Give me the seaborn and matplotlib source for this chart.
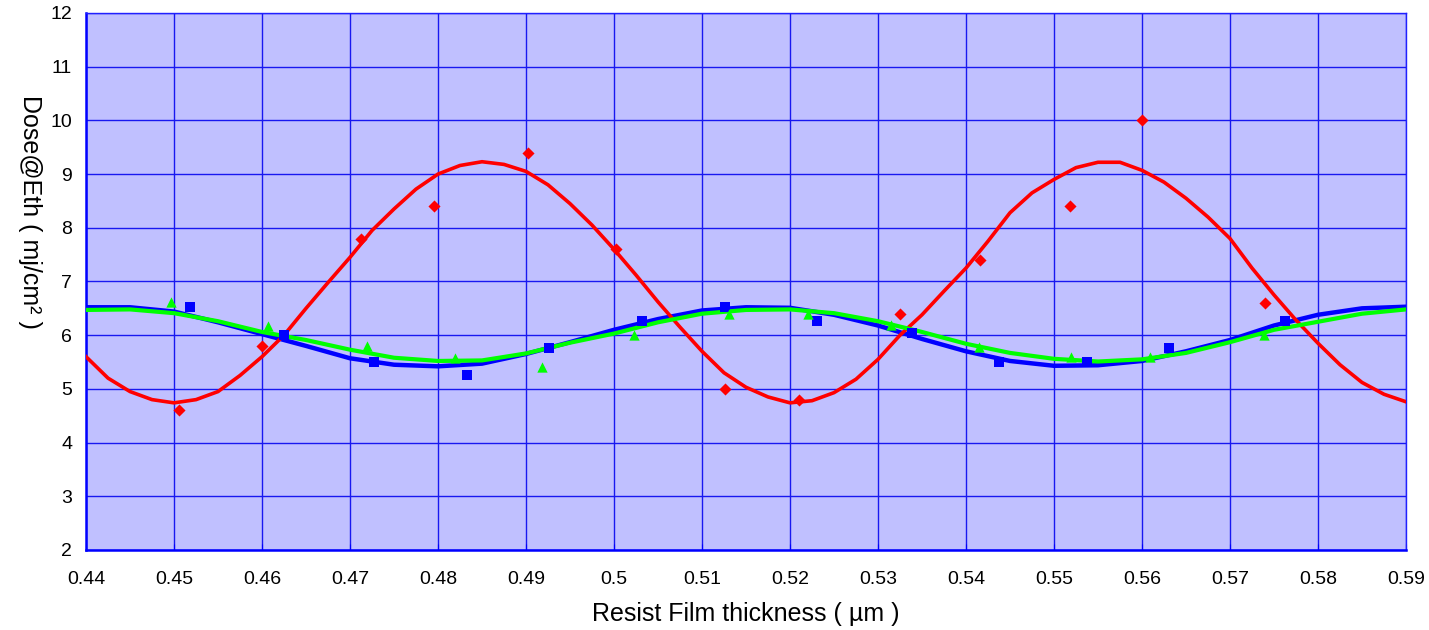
import matplotlib
matplotlib.use("Agg")
import matplotlib.pyplot as plt
import seaborn as sns

# measured points (markers)
red_x = [0.4506, 0.46, 0.4713, 0.4795, 0.4902, 0.5002, 0.5126, 0.521, 0.5325, 0.5416, 0.5518, 0.56, 0.574]
red_y = [4.6, 5.8, 7.8, 8.4, 9.4, 7.6, 5.0, 4.8, 6.4, 7.4, 8.4, 10.0, 6.6]

blue_x = [0.4518, 0.4625, 0.4727, 0.4833, 0.4926, 0.5032, 0.5126, 0.5231, 0.5339, 0.5438, 0.5538, 0.5631, 0.5763]
blue_y = [6.53, 6.0, 5.5, 5.26, 5.76, 6.26, 6.52, 6.26, 6.04, 5.5, 5.5, 5.76, 6.26]

green_x = [0.4497, 0.4607, 0.4719, 0.4819, 0.4918, 0.5023, 0.5131, 0.522, 0.5315, 0.5415, 0.5519, 0.5609, 0.5739]
green_y = [6.62, 6.17, 5.8, 5.58, 5.41, 6.0, 6.4, 6.4, 6.19, 5.78, 5.6, 5.6, 6.0]

# fitted curves
red_fit_x = [0.44, 0.4425, 0.445, 0.4475, 0.45, 0.4525, 0.455, 0.4575, 0.46, 0.4625,
             0.465, 0.4675, 0.47, 0.4725, 0.475, 0.4775, 0.48, 0.4825, 0.485, 0.4875,
             0.49, 0.4925, 0.495, 0.4975, 0.50, 0.5025, 0.505, 0.5075, 0.51, 0.5125,
             0.515, 0.5175, 0.52, 0.5225, 0.525, 0.5275, 0.53, 0.5325, 0.535, 0.5375,
             0.54, 0.5425, 0.545, 0.5475, 0.55, 0.5525, 0.555, 0.5575, 0.56, 0.5625,
             0.565, 0.5675, 0.57, 0.5725, 0.575, 0.5775, 0.58, 0.5825, 0.585, 0.5875, 0.59]
red_fit_y = [5.6, 5.2, 4.95, 4.8, 4.74, 4.8, 4.95, 5.25, 5.6, 6.0,
             6.5, 6.98, 7.45, 7.95, 8.35, 8.72, 9.0, 9.16, 9.23, 9.18,
             9.05, 8.8, 8.45, 8.05, 7.6, 7.12, 6.62, 6.15, 5.7, 5.3,
             5.03, 4.85, 4.74, 4.78, 4.93, 5.18, 5.55, 6.0, 6.38, 6.82,
             7.25, 7.75, 8.28, 8.65, 8.9, 9.12, 9.22, 9.22, 9.07, 8.85,
             8.55, 8.2, 7.8, 7.25, 6.75, 6.28, 5.85, 5.45, 5.12, 4.9, 4.76]

fit_x = [0.44, 0.445, 0.45, 0.455, 0.46, 0.465, 0.47, 0.475, 0.48, 0.485,
         0.49, 0.495, 0.50, 0.505, 0.51, 0.515, 0.52, 0.525, 0.53, 0.535,
         0.54, 0.545, 0.55, 0.555, 0.56, 0.565, 0.57, 0.575, 0.58, 0.585, 0.59]
blue_fit_y = [6.52, 6.52, 6.44, 6.24, 6.02, 5.8, 5.57, 5.45, 5.42, 5.47,
              5.65, 5.87, 6.1, 6.3, 6.46, 6.52, 6.51, 6.38, 6.18, 5.93,
              5.7, 5.52, 5.43, 5.44, 5.52, 5.7, 5.91, 6.18, 6.38, 6.5, 6.53]
green_fit_y = [6.47, 6.48, 6.41, 6.26, 6.06, 5.91, 5.73, 5.58, 5.52, 5.53,
               5.66, 5.86, 6.03, 6.24, 6.4, 6.47, 6.48, 6.41, 6.26, 6.06,
               5.84, 5.67, 5.56, 5.51, 5.55, 5.67, 5.87, 6.1, 6.25, 6.4, 6.48]

x_ticks = [0.44, 0.45, 0.46, 0.47, 0.48, 0.49, 0.5, 0.51, 0.52, 0.53, 0.54, 0.55, 0.56, 0.57, 0.58, 0.59]
x_tick_labels = ["0.44", "0.45", "0.46", "0.47", "0.48", "0.49", "0.5", "0.51", "0.52",
                 "0.53", "0.54", "0.55", "0.56", "0.57", "0.58", "0.59"]
y_ticks = [2, 3, 4, 5, 6, 7, 8, 9, 10, 11, 12]

plt.rcParams['font.family'] = ['Liberation Sans', 'DejaVu Sans']

fig = plt.figure(figsize=(14.29, 6.3), dpi=100)
ax = fig.add_axes([0.0602, 0.127, 0.9237, 0.8524])
ax.set_facecolor('#C0C0FF')

sns.lineplot(x=fit_x, y=blue_fit_y, ax=ax, color='#0000FF', linewidth=3.2, zorder=3)
sns.lineplot(x=red_fit_x, y=red_fit_y, ax=ax, color='#FF0000', linewidth=2.6, zorder=3)
sns.lineplot(x=fit_x, y=green_fit_y, ax=ax, color='#00FF00', linewidth=3.0, zorder=3)

sns.scatterplot(x=red_x, y=red_y, ax=ax, color='#FF0000', marker='D', s=38, linewidth=0, zorder=4)
sns.scatterplot(x=blue_x, y=blue_y, ax=ax, color='#0000FF', marker='s', s=42, linewidth=0, zorder=4)
sns.scatterplot(x=green_x, y=green_y, ax=ax, color='#00FF00', marker='^', s=55, linewidth=0, zorder=4)

ax.set_xlim(0.44, 0.59)
ax.set_ylim(2, 12)
ax.set_xticks(x_ticks)
ax.set_xticklabels(x_tick_labels)
ax.set_yticks(y_ticks)

ax.grid(True, color='#1818F0', linewidth=1.0, zorder=1)
ax.set_axisbelow(True)
ax.tick_params(axis='x', direction='in', length=4, color='#0000FF', labelsize=14, pad=15)
ax.tick_params(axis='y', length=0, labelsize=14, pad=10)

for side in ['left', 'bottom']:
    ax.spines[side].set_color('#0000FF')
    ax.spines[side].set_linewidth(1.8)
for side in ['top', 'right']:
    ax.spines[side].set_color('#2020FF')
    ax.spines[side].set_linewidth(1.0)

ax.set_xlabel('Resist Film thickness ( µm )', fontsize=18, labelpad=10)
# y label reads top-to-bottom and sits above the axes centre
fig.text(30 / 1429, 1 - 212 / 630, 'Dose@Eth ( mj/cm² )', fontsize=18,
         rotation=270, ha='center', va='center')

plt.savefig('out.png', dpi=100)
plt.close()
